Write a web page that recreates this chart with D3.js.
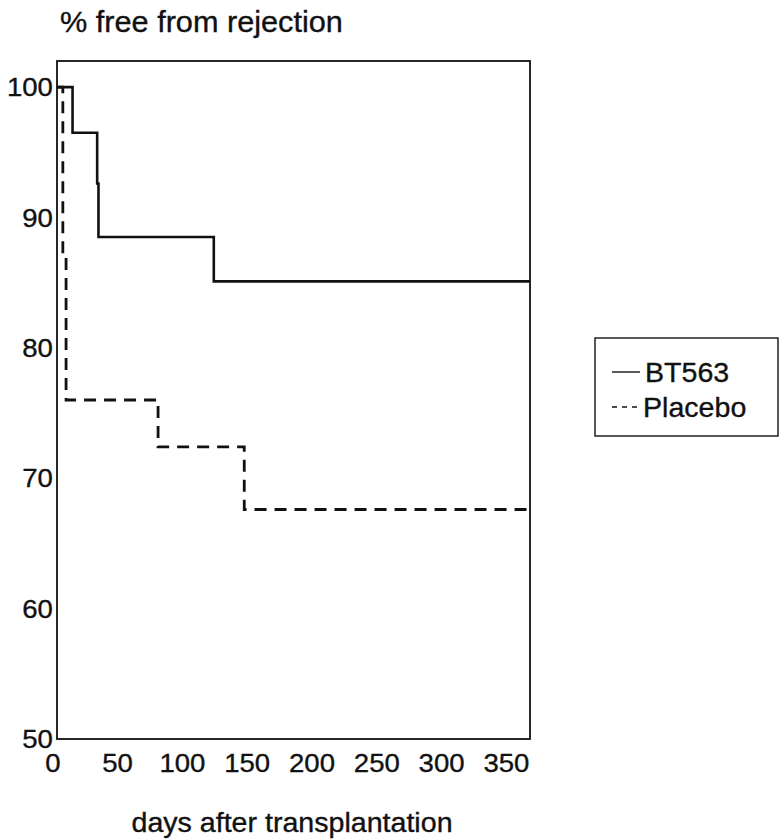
<!DOCTYPE html>
<html>
<head>
<meta charset="utf-8">
<script src="https://cdn.jsdelivr.net/npm/d3@7"></script>
<style>
  html, body { margin: 0; padding: 0; background: #fff; }
  svg { display: block; }
  text { font-family: "Liberation Sans", Arial, Helvetica, sans-serif; fill: #111; stroke: #111; stroke-width: 0.35px; }
</style>
</head>
<body>
<svg id="chart" width="781" height="840"></svg>
<script>
// ---- data ----
const seriesNames = ["BT563", "Placebo"];
const daysBT563 = [0, 12, 31, 32, 121, 365];
const survBT563 = [100, 96.5, 92.6, 88.5, 85.1, 85.1];
const daysPlacebo = [0, 4.5, 7, 78, 144.5, 365];
const survPlacebo = [100, 87, 76, 72.4, 67.6, 67.6];
const xTicks = [0, 50, 100, 150, 200, 250, 300, 350];
const yTicks = [50, 60, 70, 80, 90, 100];
const yTitle = "% free from rejection";
const xTitle = "days after transplantation";

const STRETCH = 1.04; // glyphs in the reference are a touch wide

const svg = d3.select("#chart");
const plot = { left: 57, right: 530, top: 61, bottom: 739 };

const x = d3.scaleLinear().domain([0, 365]).range([plot.left, plot.right]);
const y = d3.scaleLinear().domain([50, 102]).range([plot.bottom, plot.top]);

// frame
svg.append("rect")
  .attr("x", plot.left).attr("y", plot.top)
  .attr("width", plot.right - plot.left).attr("height", plot.bottom - plot.top)
  .attr("fill", "#fff").attr("stroke", "#111").attr("stroke-width", 1.8);

// y axis
const yAxis = svg.append("g")
  .attr("transform", `translate(${plot.left},0)`)
  .call(d3.axisLeft(y).tickValues(yTicks).tickFormat(d3.format("d")).tickSize(0).tickPadding(4));
yAxis.select(".domain").remove();
yAxis.selectAll("text")
  .attr("font-size", 26.5)
  .attr("fill", "#111")
  .attr("dy", "0.33em")
  .style("font-family", '"Liberation Sans", Arial, sans-serif')
  .attr("transform", `scale(${STRETCH},1)`);

// x axis
const xAxis = svg.append("g")
  .attr("transform", `translate(0,${plot.bottom})`)
  .call(d3.axisBottom(x).tickValues(xTicks).tickFormat(d3.format("d")).tickSize(0).tickPadding(14));
xAxis.select(".domain").remove();
xAxis.selectAll("text")
  .attr("font-size", 26.5)
  .attr("fill", "#111")
  .attr("x", -4.5)
  .style("font-family", '"Liberation Sans", Arial, sans-serif')
  .attr("transform", `scale(${STRETCH},1)`);

// titles
svg.append("text")
  .attr("transform", `translate(60,32) scale(${STRETCH},1)`)
  .attr("font-size", 29.5)
  .text(yTitle);
svg.append("text")
  .attr("transform", `translate(292,832) scale(${STRETCH},1)`)
  .attr("text-anchor", "middle")
  .attr("font-size", 27.5)
  .text(xTitle);

// survival step curves
const series = [
  { name: seriesNames[0], days: daysBT563, surv: survBT563, dash: null, width: 2.6 },
  { name: seriesNames[1], days: daysPlacebo, surv: survPlacebo, dash: "12,8", width: 2.8 }
];
const line = d3.line().curve(d3.curveStepAfter).x(d => x(d[0])).y(d => y(d[1]));
series.forEach(s => {
  svg.append("path")
    .datum(d3.zip(s.days, s.surv))
    .attr("d", line)
    .attr("fill", "none")
    .attr("stroke", "#111")
    .attr("stroke-width", s.width)
    .attr("stroke-dasharray", s.dash);
});

// legend
const lg = svg.append("g").attr("transform", "translate(595,338)");
lg.append("rect").attr("width", 183).attr("height", 98)
  .attr("fill", "#fff").attr("stroke", "#111").attr("stroke-width", 1.4);
const legendDash = [null, "5,5"];
seriesNames.forEach((name, i) => {
  const row = lg.append("g").attr("transform", `translate(0,${34 + i * 35})`);
  row.append("line").attr("x1", 17).attr("x2", 45).attr("y1", 0).attr("y2", 0)
    .attr("stroke", "#111").attr("stroke-width", 1.4).attr("stroke-dasharray", legendDash[i]);
  row.append("text")
    .attr("transform", `translate(${i === 0 ? 50 : 48},10) scale(${STRETCH},1)`)
    .attr("font-size", 27.5)
    .text(name);
});
</script>
</body>
</html>
